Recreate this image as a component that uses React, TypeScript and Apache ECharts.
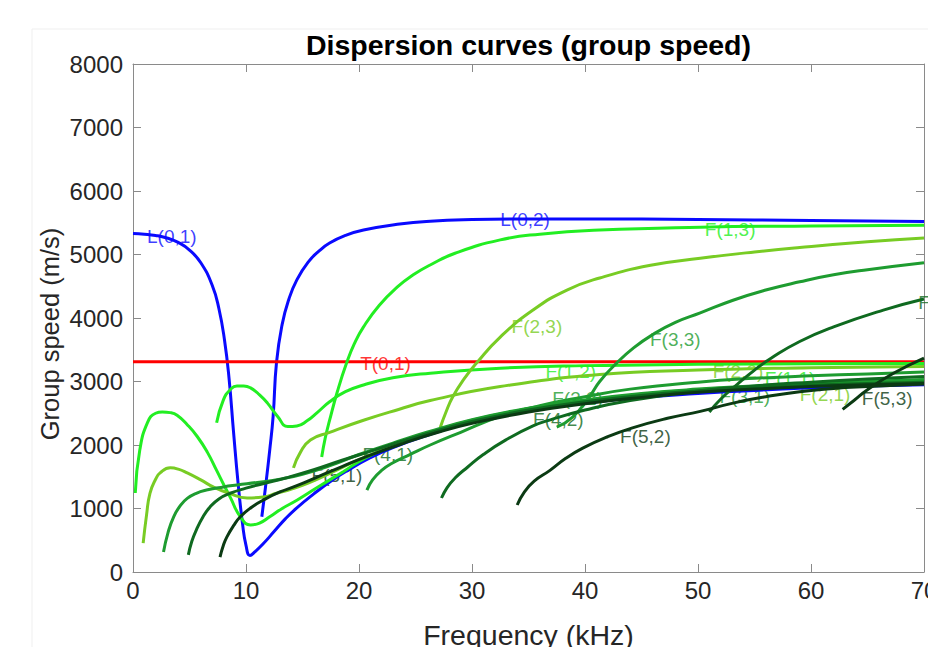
import React, { useEffect, useRef } from "react";
import * as echarts from "echarts";

type Pt = [number, number];

// ---- Data (frequency kHz, group speed m/s) ----
const L01: Pt[] = [
  [0, 5330], [1, 5320], [2, 5300], [3, 5260], [4, 5190], [5, 5070], [6, 4870], [7, 4520],
  [7.6, 4150], [8.1, 3650], [8.5, 3050], [8.9, 2200], [9.3, 1400], [9.7, 750], [10, 420],
  [10.35, 260], [10.8, 320], [11.5, 440], [12.5, 640], [13.5, 840], [14.5, 1010], [16, 1230],
  [17.5, 1430], [19, 1600], [21, 1800], [23, 1960], [26, 2150], [30, 2360], [35, 2540],
  [40, 2660], [45, 2750], [50, 2810], [55, 2860], [60, 2900], [65, 2930], [70, 2950],
];
const L02: Pt[] = [
  [11.4, 870], [11.7, 1300], [12.1, 1920], [12.4, 2450], [12.7, 3300], [13.2, 3900],
  [13.8, 4300], [14.5, 4600], [15.5, 4880], [16.5, 5060], [17.4, 5180], [18.8, 5300],
  [20.4, 5385], [23.6, 5480], [26.3, 5525], [30, 5550], [35, 5560], [40, 5560], [50, 5550],
  [60, 5535], [70, 5520],
];
const T01: Pt[] = [[0, 3310], [70, 3310]];
const F11: Pt[] = [
  [0.2, 1245], [0.6, 1920], [1.3, 2360], [2, 2500], [2.6, 2520], [3.3, 2510], [3.9, 2470],
  [4.8, 2320], [5.7, 2130], [6.6, 1880], [7.4, 1600], [8.1, 1350], [8.6, 1180], [9.5, 870],
  [10.4, 740], [11.2, 770], [12.1, 870], [13.2, 1000], [14.5, 1130], [16.3, 1330],
  [18.6, 1580], [20.5, 1790], [23, 1990], [26, 2180], [30, 2390], [35, 2570], [40, 2700],
  [45, 2800], [50, 2870], [55, 2920], [60, 2960], [65, 2990], [70, 3020],
];
const F12: Pt[] = [
  [7.4, 2350], [8, 2710], [8.6, 2870], [9.2, 2930], [9.8, 2930], [10.4, 2900], [11.2, 2790],
  [11.9, 2660], [12.8, 2450], [13.7, 2290], [14.5, 2300], [15.4, 2380], [16.3, 2510],
  [17.4, 2680], [18.8, 2840], [20.4, 2945], [23, 3060], [26.3, 3130], [32.5, 3210],
  [40, 3250], [50, 3270], [60, 3280], [70, 3285],
];
const F13: Pt[] = [
  [16.7, 1810], [17, 2100], [17.4, 2390], [18.1, 2850], [18.9, 3290], [19.6, 3600],
  [20.4, 3860], [21.8, 4200], [23.4, 4490], [24.8, 4680], [26.3, 4835], [28.5, 5020],
  [32.5, 5230], [36, 5320], [41.3, 5385], [50.2, 5430], [60, 5450], [70, 5460],
];
const F21: Pt[] = [
  [0.9, 455], [1.2, 900], [1.5, 1240], [2, 1460], [2.4, 1560], [3.3, 1640], [4, 1620],
  [4.8, 1560], [6, 1450], [7.1, 1340], [8.5, 1240], [10.1, 1165], [11.5, 1180], [12.7, 1240],
  [13.9, 1300], [15.5, 1400], [17.5, 1560], [20, 1770], [23, 1980], [26, 2160], [30, 2370],
  [35, 2550], [40, 2680], [45, 2780], [50, 2850], [55, 2900], [60, 2940], [65, 2970], [70, 3000],
];
const F22: Pt[] = [
  [14.2, 1640], [14.8, 1880], [15.7, 2080], [17.4, 2200], [20.4, 2390], [23.5, 2560],
  [26.3, 2700], [32.5, 2920], [41.3, 3110], [50, 3180], [60, 3215], [70, 3235],
];
const F23: Pt[] = [
  [27.2, 2280], [27.7, 2520], [28.3, 2760], [29.3, 3040], [30.4, 3290], [32.5, 3700],
  [35.4, 4125], [38.4, 4440], [41.3, 4630], [45.8, 4830], [50.2, 4940], [55, 5040],
  [59, 5110], [65, 5200], [70, 5260],
];
const F31: Pt[] = [
  [2.7, 315], [3.1, 620], [3.6, 870], [4.2, 1050], [4.8, 1160], [5.6, 1240], [6.5, 1290],
  [8, 1340], [9.2, 1370], [11, 1410], [13, 1460], [15, 1540], [17.5, 1680], [20, 1850],
  [23, 2030], [26, 2200], [30, 2400], [35, 2580], [40, 2710], [45, 2810], [50, 2880],
  [55, 2930], [60, 2970], [65, 3000], [70, 3030],
];
const F32: Pt[] = [
  [20.7, 1290], [21.2, 1450], [22, 1600], [23, 1720], [24.5, 1850], [26.3, 2000], [29, 2200],
  [32.5, 2450], [36, 2620], [40, 2760], [44, 2880], [50, 2990], [55, 3050], [60, 3090],
  [65, 3120], [70, 3150],
];
const F33: Pt[] = [
  [37.5, 2280], [38.9, 2440], [40.4, 2760], [41.3, 3000], [42.8, 3290], [44.3, 3530],
  [46, 3740], [48, 3930], [50.2, 4080], [53.1, 4280], [56, 4440], [59, 4570], [62, 4680],
  [65, 4760], [70, 4870],
];
const F41: Pt[] = [
  [4.9, 270], [5.2, 480], [5.6, 660], [6.2, 870], [6.8, 1020], [7.6, 1150], [8.6, 1240],
  [10, 1320], [11.5, 1390], [13.5, 1480], [16, 1610], [18.5, 1760], [21, 1900], [24, 2070],
  [27, 2230], [30, 2370], [35, 2550], [40, 2680], [45, 2780], [50, 2850], [55, 2900],
  [60, 2940], [65, 2970], [70, 2990],
];
const F42: Pt[] = [
  [27.3, 1165], [27.8, 1330], [28.5, 1480], [29.6, 1650], [31, 1850], [33, 2080],
  [35.4, 2300], [37, 2400], [40, 2550], [44, 2700], [50, 2850], [55, 2930], [60, 2990],
  [65, 3040], [70, 3080],
];
const F43: Pt[] = [
  [51, 2520], [52, 2720], [53.5, 2960], [55, 3180], [56.5, 3370], [59, 3630], [62, 3860],
  [66.4, 4125], [70, 4300],
];
const F51: Pt[] = [
  [7.7, 235], [8, 420], [8.3, 550], [8.9, 730], [9.5, 870], [10.5, 1020], [11.5, 1130],
  [13, 1260], [14.5, 1360], [16.5, 1510], [18.5, 1660], [21, 1840], [24, 2030], [27, 2200],
  [30, 2340], [35, 2520], [40, 2650], [45, 2750], [50, 2830], [55, 2880], [60, 2920],
  [65, 2950], [70, 2970],
];
const F52: Pt[] = [
  [34, 1055], [34.6, 1250], [35.5, 1430], [36.9, 1600], [38.3, 1790], [39.8, 1950],
  [42, 2130], [44.2, 2270], [47.3, 2420], [50.2, 2530], [53.1, 2660], [56, 2760], [59, 2840],
  [62, 2890], [65, 2920], [70, 2960],
];
const F53: Pt[] = [[62.8, 2560], [63.8, 2700], [65, 2870], [67.3, 3130], [70, 3370]];

// mode label anchors (data coordinates: frequency, speed)
const LABEL_TEXT = [
  "L(0,1)", "L(0,2)", "T(0,1)", "F(1,3)", "F(2,3)", "F(3,3)", "F(1,2)", "F(2,2)", "F(3,2)",
  "F(4,2)", "F(1,1)", "F(2,1)", "F(3,1)", "F(4,1)", "F(5,1)", "F(5,2)", "F(5,3)", "F(4,3)",
];
const LABEL_F = [1.24, 32.5, 20.1, 50.6, 33.5, 45.75, 36.5, 51.3, 37.1, 35.4, 55.9, 59.0, 51.9, 20.3, 15.8, 43.1, 64.5, 69.5];
const LABEL_V = [5276, 5544, 3276, 5387, 3860, 3654, 3150, 3150, 2740, 2394, 3055, 2803, 2756, 1858, 1512, 2126, 2740, 4237];
const LABEL_FAMILY = ["L", "L", "T", "F1", "F2", "F3", "F1", "F2", "F3", "F4", "F1", "F2", "F3", "F4", "F5", "F5", "F5", "F4"];

const X_TICKS = { min: 0, max: 70, interval: 10 };
const Y_TICKS = { min: 0, max: 8000, interval: 1000 };

// ---- Styles ----
const COLORS: Record<string, string> = {
  L: "#0a0aff",
  T: "#ff0000",
  F1: "#22ee22",
  F2: "#78cc24",
  F3: "#1e9c30",
  F4: "#0f6a20",
  F5: "#0b3a13",
};
const FONT = "'Liberation Sans', Arial, Helvetica, sans-serif";
const AX = "#8a8a8a";
const TXT = "#262626";

const CURVES: { name: string; data: Pt[]; fam: string }[] = [
  { name: "L(0,1)", data: L01, fam: "L" },
  { name: "L(0,2)", data: L02, fam: "L" },
  { name: "T(0,1)", data: T01, fam: "T" },
  { name: "F(1,1)", data: F11, fam: "F1" },
  { name: "F(1,2)", data: F12, fam: "F1" },
  { name: "F(1,3)", data: F13, fam: "F1" },
  { name: "F(2,1)", data: F21, fam: "F2" },
  { name: "F(2,2)", data: F22, fam: "F2" },
  { name: "F(2,3)", data: F23, fam: "F2" },
  { name: "F(3,1)", data: F31, fam: "F3" },
  { name: "F(3,2)", data: F32, fam: "F3" },
  { name: "F(3,3)", data: F33, fam: "F3" },
  { name: "F(4,1)", data: F41, fam: "F4" },
  { name: "F(4,2)", data: F42, fam: "F4" },
  { name: "F(4,3)", data: F43, fam: "F4" },
  { name: "F(5,1)", data: F51, fam: "F5" },
  { name: "F(5,2)", data: F52, fam: "F5" },
  { name: "F(5,3)", data: F53, fam: "F5" },
];

const GRID = { left: 133, right: 4, top: 64, bottom: 75 };

export default function App() {
  const ref = useRef<HTMLDivElement>(null);
  useEffect(() => {
    if (!ref.current) return;
    const chart = echarts.init(ref.current, undefined, { renderer: "svg" });

    const mirrorAxis = (pos: string, isX: boolean) => ({
      type: "value",
      position: pos,
      ...(isX ? X_TICKS : Y_TICKS),
      axisLine: { show: true, onZero: false, lineStyle: { color: AX, width: 1 } },
      axisTick: { show: true, inside: true, length: 8, lineStyle: { color: AX } },
      axisLabel: { show: false },
      splitLine: { show: false },
    });

    const lineSeries = CURVES.map((c) => ({
      type: "line",
      name: c.name,
      data: c.data,
      xAxisIndex: 0,
      yAxisIndex: 0,
      showSymbol: false,
      symbol: "none",
      smooth: 0.5,
      silent: true,
      z: 3,
      lineStyle: { color: COLORS[c.fam], width: 3 },
    }));

    const labelSeries = {
      type: "scatter",
      silent: true,
      symbolSize: 0,
      z: 1,
      data: LABEL_TEXT.map((t, i) => ({
        value: [LABEL_F[i], LABEL_V[i]],
        label: {
          show: true,
          position: "right",
          distance: 0,
          formatter: t,
          color: COLORS[LABEL_FAMILY[i]],
          fontSize: 19,
          fontFamily: FONT,
        },
      })),
    };

    const W = 928;
    const H = 647;
    const plotCenterX = GRID.left + (W - GRID.left - GRID.right) / 2;

    chart.setOption({
      animation: false,
      backgroundColor: "#ffffff",
      textStyle: { fontFamily: FONT },
      title: {
        text: "Dispersion curves (group speed)",
        left: plotCenterX,
        top: 30,
        padding: 0,
        textAlign: "center",
        textStyle: { fontSize: 28.5, fontWeight: "bold", color: "#000", fontFamily: FONT },
      },
      grid: { ...GRID, containLabel: false, outerBoundsMode: "none" },
      xAxis: [
        {
          type: "value",
          position: "bottom",
          ...X_TICKS,
          axisLine: { show: true, onZero: false, lineStyle: { color: AX, width: 1 } },
          axisTick: { show: true, inside: true, length: 8, lineStyle: { color: AX } },
          axisLabel: { color: TXT, fontSize: 24, margin: 6, fontFamily: FONT, formatter: (v: number) => String(v) },
          splitLine: { show: false },
          name: "Frequency (kHz)",
          nameLocation: "middle",
          nameGap: 48,
          nameTextStyle: { fontSize: 28.5, color: TXT, fontFamily: FONT },
        },
        mirrorAxis("top", true),
      ],
      yAxis: [
        {
          type: "value",
          position: "left",
          ...Y_TICKS,
          axisLine: { show: true, onZero: false, lineStyle: { color: AX, width: 1 } },
          axisTick: { show: true, inside: true, length: 8, lineStyle: { color: AX } },
          axisLabel: { color: TXT, fontSize: 24, margin: 10, fontFamily: FONT, formatter: (v: number) => String(v) },
          splitLine: { show: false },
        },
        mirrorAxis("right", false),
      ],
      graphic: [
        { type: "line", shape: { x1: 32, y1: 29, x2: W, y2: 29 }, style: { stroke: "#efefef", lineWidth: 1 }, silent: true },
        { type: "line", shape: { x1: 32, y1: 29, x2: 32, y2: H }, style: { stroke: "#efefef", lineWidth: 1 }, silent: true },
        {
          type: "text",
          x: 50,
          y: 334,
          rotation: Math.PI / 2,
          silent: true,
          style: {
            text: "Group speed (m/s)",
            fill: TXT,
            fontSize: 25.5,
            fontFamily: FONT,
            textAlign: "center",
            textVerticalAlign: "middle",
          },
        },
      ],
      series: [...lineSeries, labelSeries],
    });

    return () => chart.dispose();
  }, []);

  return (
    <div
      ref={ref}
      style={{ position: "fixed", left: 0, top: 0, width: 928, height: 647, background: "#fff" }}
    />
  );
}
